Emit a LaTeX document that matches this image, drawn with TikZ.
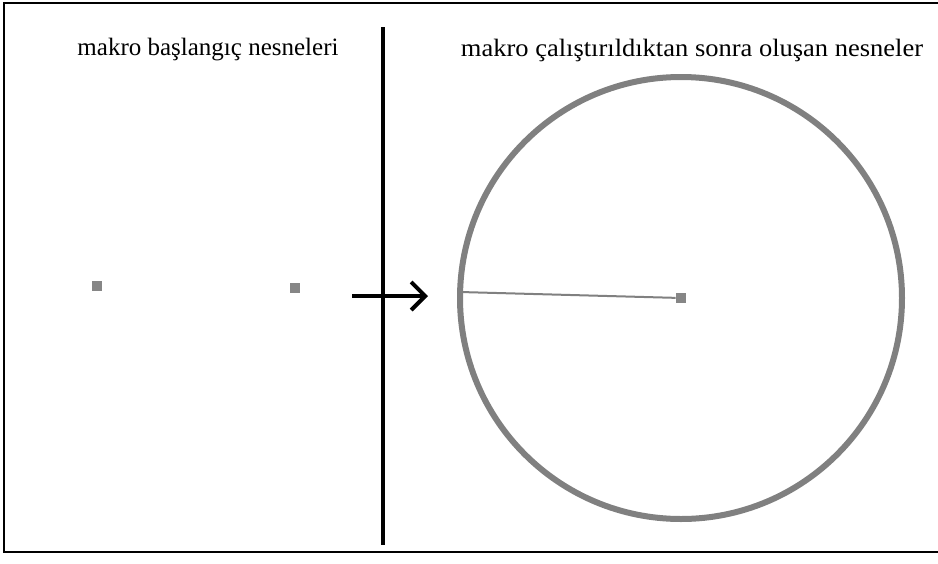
\documentclass[tikz,border=0pt]{standalone}
\usepackage{fontspec}
\setmainfont{Liberation Serif}
\usetikzlibrary{arrows.meta}

\tikzset{every picture/.style={line width=0.75pt}}
\tikzset{
  pnt/.style={fill=gray!95!white, draw=none, minimum size=10pt, inner sep=0pt},
  lbl/.style={inner sep=0.75pt, font=\fontsize{25}{30}\selectfont}
}

\begin{document}
\begin{tikzpicture}[x=1pt,y=1pt,yscale=-1,xscale=1]
\useasboundingbox (0,0) rectangle (938,563);

%Frame
\draw [line width=2.5pt] (938,3) -- (4,3) -- (4,552) -- (938,552) ;
%Divider
\draw [line width=3.5pt] (383,27) -- (383,545) ;

% Text Node
\node (lefttitle) [lbl] at (208,50) {makro başlangıç nesneleri};
% Text Node
\node (righttitle) [lbl, xscale=1.06] at (692,50) {makro çalıştırıldıktan sonra oluşan nesneler};

%Points
\node (pa) [pnt] at (97,286) {};
\node (pb) [pnt] at (295,288) {};
\node (pc) [pnt] at (681,298) {};

%Circle
\draw [gray, line width=6pt] (pc.center) circle [radius=221] ;
\coordinate (rim) at (460,292) ;
\draw [gray, line width=2pt] (rim) -- (pc) ;

%Arrow
\coordinate (arrfrom) at (352,296) ;
\coordinate (arrto) at (428,296) ;
\draw [line width=4pt, -{Straight Barb[length=14pt,width=28pt]}] (arrfrom) -- (arrto) ;

\end{tikzpicture}
\end{document}
